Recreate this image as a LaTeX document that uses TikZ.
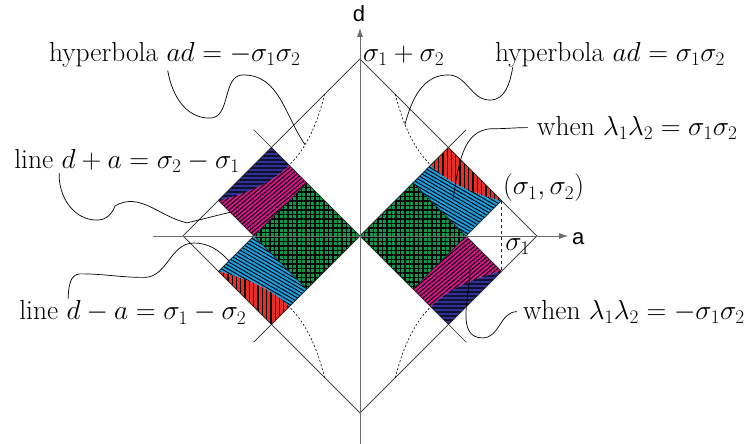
\RequirePackage{fix-cm}
\documentclass[tikz,border=0pt]{standalone}
\usepackage{fontspec}
\newfontfamily\axisfont{Liberation Sans}
\usetikzlibrary{arrows.meta,patterns.meta}
\definecolor{Sq}{HTML}{0A9A4A}
\definecolor{Cy}{HTML}{1BA1E2}
\definecolor{Rd}{HTML}{EE2A24}
\definecolor{Mg}{HTML}{D4148A}
\definecolor{Nv}{HTML}{2E3192}

\begin{document}
\begin{tikzpicture}[x=35.4pt,y=35.4pt,>={Latex[length=9pt,width=6pt]},
  font=\fontsize{27.5}{33}\selectfont,
  every node/.style={inner sep=0pt,anchor=base west},
  axis/.style={draw=gray!85!black,line width=0.9pt},
  edgeline/.style={draw=black!85,line width=0.7pt},
  leader/.style={draw=black,line width=0.7pt},
  hypdash/.style={draw=black,line width=0.6pt,dash pattern=on 2pt off 2pt},
  sqfill/.style={preaction={fill=Sq},pattern={Hatch[angle=0,distance=4.5pt,line width=1.4pt]},pattern color=black},
  cyfill/.style={preaction={fill=Cy},pattern={Lines[angle=-30,distance=3.2pt,line width=1pt]},pattern color=black},
  rdfill/.style={preaction={fill=Rd},pattern={Lines[angle=90,distance=4.3pt,line width=1.3pt]},pattern color=black},
  mgfill/.style={preaction={fill=Mg},pattern={Lines[angle=40,distance=3.2pt,line width=1pt]},pattern color=black},
  nvfill/.style={preaction={fill=Nv},pattern={Lines[angle=0,distance=4pt,line width=1.3pt]},pattern color=black}]
  \useasboundingbox (-10.17,-5.876) rectangle (10.99,6.667);

  % outer square and the two diagonals
  \draw[edgeline] (0,5) -- (5,0) -- (0,-5) -- (-5,0) -- cycle;
  \draw[edgeline] (-3,-3) -- (3,3);
  \draw[edgeline] (-3,3) -- (3,-3);
  \draw[edgeline,dashed] (4,1) -- (4,-1);

  % regions, the left half is the right half turned round the origin
  \foreach \s in {1,-1}{
    \path[sqfill] (0,0) -- (1.5*\s,1.5*\s) -- (3*\s,0) -- (1.5*\s,-1.5*\s) -- cycle;
    \path[cyfill] (1.5*\s,1.5*\s) -- (2*\s,2*\s) -- plot[domain=2:4,samples=30] ({\s*\x},{\s*4/\x}) -- (3*\s,0) -- cycle;
    \path[rdfill] (2*\s,2*\s) -- (2.5*\s,2.5*\s) -- (4*\s,1*\s) -- plot[domain=4:2,samples=30] ({\s*\x},{\s*4/\x}) -- cycle;
    \path[mgfill] (1.5*\s,-1.5*\s) -- (2*\s,-2*\s) -- plot[domain=2:4,samples=30] ({\s*\x},{-\s*4/\x}) -- (3*\s,0) -- cycle;
    \path[nvfill] (2*\s,-2*\s) -- (2.5*\s,-2.5*\s) -- (4*\s,-1*\s) -- plot[domain=4:2,samples=30] ({\s*\x},{-\s*4/\x}) -- cycle;
    \draw[edgeline] (0,0) -- (2.5*\s,2.5*\s) -- (4*\s,1*\s) -- (1.5*\s,-1.5*\s);
    \draw[edgeline] (0,0) -- (2.5*\s,-2.5*\s) -- (4*\s,-1*\s) -- (1.5*\s,1.5*\s);
    \draw[hypdash] plot[domain=1:2,samples=20] ({\s*\x},{\s*4/\x});
    \draw[hypdash] plot[domain=1:2,samples=20] ({\s*\x},{-\s*4/\x});
  }

  % axes
  \coordinate (dlow) at (0,-5.9);
  \coordinate (dhigh) at (0,5.88);
  \coordinate (alow) at (-5.85,0);
  \coordinate (ahigh) at (5.88,0);
  \draw[axis,->] (dlow) -- (dhigh);
  \draw[axis,->] (alow) -- (ahigh);
  \node[font=\axisfont\fontsize{22}{26}\selectfont] (dlab) at (-0.21,6.05) {d};
  \node[font=\axisfont\fontsize{22}{26}\selectfont] (alab) at (5.99,-0.23) {a};

  % labels
  \node (sum) at (0.08,4.92) {$\sigma_1+\sigma_2$};
  \node (hypneg) at (-8.79,4.92) {hyperbola $ad=-\sigma_1\sigma_2$};
  \node (hyppos) at (3.81,4.92) {hyperbola $ad=\sigma_1\sigma_2$};
  \node (whenpos) at (5.0,2.85) {when $\lambda_1\lambda_2=\sigma_1\sigma_2$};
  \node (corner) at (4.04,1.16) {$(\sigma_1,\sigma_2)$};
  \node (sone) at (4.1,-0.40) {$\sigma_1$};
  \node (whenneg) at (4.6,-2.35) {when $\lambda_1\lambda_2=-\sigma_1\sigma_2$};
  \node (linesum) at (-9.77,1.92) {line $d+a=\sigma_2-\sigma_1$};
  \node (linediff) at (-9.63,-2.37) {line $d-a=\sigma_1-\sigma_2$};

  % leaders
  \coordinate (hnegpt) at (-1.55,2.58);
  \coordinate (hpospt) at (1.27,3.15);
  \coordinate (redpt) at (2.63,1.07);
  \coordinate (magpt) at (3.11,-0.9);
  \coordinate (sumpt) at (-3.67,0.67);
  \coordinate (diffpt) at (-3.7,-0.7);
  \draw[leader] ([xshift=-7pt,yshift=-3pt]hypneg.south) to[out=-80,in=180] (-4.24,3.33) to[out=0,in=180] (-3.3,4.55) to[out=0,in=125] (hnegpt);
  \draw[leader] ([xshift=18pt,yshift=-5pt]hyppos.base west) to[out=-100,in=0] (3.67,3.84) to[out=180,in=0] (2.49,4.55) to[out=180,in=75] (hpospt);
  \draw[leader] ([xshift=-9pt]whenpos.west) to[out=180,in=0] (3.75,3.03) to[out=180,in=80] (redpt);
  \draw[leader] ([xshift=-6pt]whenneg.west) to[out=180,in=0] (3.47,-2.88) to[out=180,in=-90] (magpt);
  \draw[leader] ([xshift=45pt,yshift=-5pt]linesum.base west) to[out=-92,in=180] (-7.43,0.45) to[out=0,in=-110] (-6.92,0.85) to[out=30,in=167] (-4.89,0.37) -- (sumpt);
  \draw[leader] ([xshift=49pt,yshift=21pt]linediff.base west) to[out=88,in=180] (-7.9,-1.07) to[out=0,in=180] (-6.1,-1.17) to[out=0,in=180] (-4.7,-0.2) to[out=0,in=135] (diffpt);
\end{tikzpicture}
\end{document}
